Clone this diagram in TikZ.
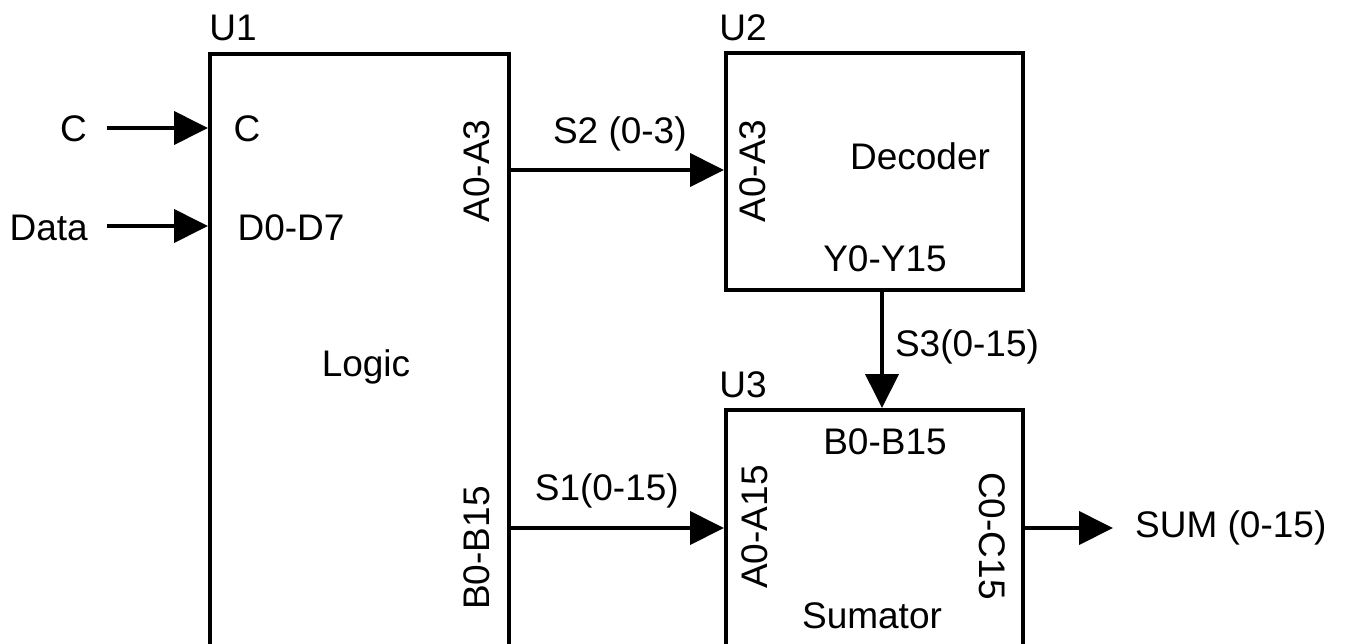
\documentclass[tikz,border=0pt]{standalone}
\usepackage{fontspec}
\setmainfont{Liberation Sans}
\usetikzlibrary{arrows.meta}
\begin{document}
\begin{tikzpicture}[x=1pt,y=-1pt,
  box/.style={draw=black, line width=4pt, fill=none, inner sep=0pt, anchor=north west},
  txt/.style={inner sep=0pt, font=\fontsize{37}{40}\selectfont},
  arr/.style={line width=4pt, -{Triangle[length=34pt,width=33pt]}},
]
\useasboundingbox (0,0) rectangle (1347,643);
\clip (0,0) rectangle (1347,643);
% boxes
\node[box, minimum width=299pt, minimum height=700pt] (U1) at (208,52) {};
\node[box, minimum width=297pt, minimum height=237pt] (U2) at (724,51) {};
\node[box, minimum width=297pt, minimum height=700pt] (U3) at (724,408) {};
% titles
\node[txt] (t1) at (233,28) {U1};
\node[txt] (t2) at (743,28) {U2};
\node[txt] (t3) at (743,385) {U3};
% U1 contents
\node[txt] (c1) at (247,129) {C};
\node[txt] (d1) at (291,228) {D0-D7};
\node[txt] (lg) at (366,367) {Logic};
\node[txt, rotate=90] (a1) at (477,171) {A0-A3};
\node[txt, rotate=90] (b1) at (477,548) {B0-B15};
% U2 contents
\node[txt, rotate=90] (a2) at (753,171) {A0-A3};
\node[txt] (dec) at (920,156) {Decoder};
\node[txt] (y2) at (885,259) {Y0-Y15};
% U3 contents
\node[txt] (b3) at (885,442) {B0-B15};
\node[txt, rotate=90] (a3) at (755,527) {A0-A15};
\node[txt, rotate=-90] (c3) at (992,536) {C0-C15};
\node[txt] (sm) at (872,616) {Sumator};
% external labels
\node[txt, anchor=east] (cin) at (87,129) {C};
\node[txt, anchor=east] (din) at (88,228) {Data};
\node[txt, anchor=west] (sum) at (1135,528) {SUM (0-15)};
% ports
\coordinate (p1) at (507,170);
\coordinate (p2) at (724,170);
\coordinate (p3) at (507,528);
\coordinate (p4) at (724,528);
\coordinate (p5) at (882,288);
\coordinate (p6) at (882,408);
\coordinate (p7) at (1022,528);
\coordinate (p8) at (1113,528);
% connectors
\draw[arr] ([xshift=20pt]cin.east |- 0,128) -- (U1.west |- 0,128);
\draw[arr] ([xshift=19pt]din.east |- 0,226) -- (U1.west |- 0,226);
\draw[arr] (p1) -- node[txt, above=17pt, pos=0.52] (s2) {S2 (0-3)} (p2);
\draw[arr] (p3) -- node[txt, above=18pt, pos=0.46] (s1) {S1(0-15)} (p4);
\draw[arr] (p5) -- node[txt, right=11pt, pos=0.49] (s3) {S3(0-15)} (p6);
\draw[arr] (p7) -- (p8);
\end{tikzpicture}
\end{document}
